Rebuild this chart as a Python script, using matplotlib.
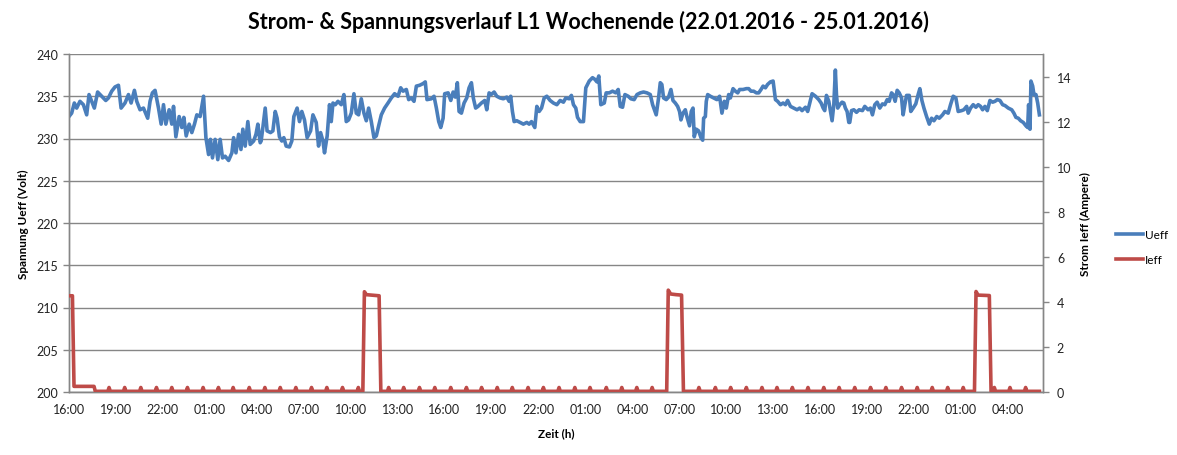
import matplotlib
matplotlib.use("Agg")
import matplotlib.pyplot as plt
import numpy as np

plt.rcParams['font.family'] = ['Lato', 'DejaVu Sans']

# ---- data (hours since 22.01.2016 16:00) ----
u_time = [0.00, 0.17, 0.34, 0.49, 0.70, 0.92, 1.13, 1.28, 1.45, 1.62, 1.83, 2.09, 2.35, 2.52, 2.73, 2.94,
          3.16, 3.33, 3.58, 3.80, 3.97, 4.18, 4.33, 4.54, 4.76, 5.03, 5.18, 5.33, 5.50, 5.72, 5.89, 6.04,
          6.19, 6.40, 6.57, 6.68, 6.83, 7.04, 7.21, 7.34, 7.49, 7.68, 7.85, 8.02, 8.17, 8.38, 8.60, 8.75,
          8.92, 9.04, 9.17, 9.34, 9.51, 9.66, 9.81, 9.98, 10.20, 10.41, 10.52, 10.67, 10.84, 10.99, 11.11,
          11.26, 11.43, 11.58, 11.80, 11.95, 12.07, 12.22,
          12.28, 12.39, 12.54, 12.66, 12.88, 13.03, 13.18, 13.30, 13.45, 13.60, 13.73, 13.88, 14.09, 14.24,
          14.37, 14.58, 14.73, 14.88, 15.05, 15.22, 15.44, 15.59, 15.80, 15.95, 16.08, 16.23, 16.33, 16.50,
          16.65, 16.76, 16.87, 17.02, 17.19, 17.40, 17.57, 17.72, 17.87, 18.04, 18.21, 18.36, 18.51, 18.68,
          18.85, 19.00, 19.15, 19.32, 19.49, 19.64, 19.79, 19.96, 20.17, 20.39, 20.60, 20.81, 21.03, 21.20,
          21.35, 21.56, 21.71, 21.88, 22.05, 22.20, 22.41, 22.63, 22.77, 22.88, 23.16, 23.33, 23.48, 23.63,
          23.76, 23.91, 24.01, 24.23, 24.40, 24.55, 24.69, 24.82,
          24.93, 25.08, 25.25, 25.42, 25.57, 25.72, 25.84, 25.99, 26.14, 26.36, 26.57, 26.70, 26.85, 26.98,
          27.17, 27.34, 27.55, 27.76, 27.98, 28.13, 28.23, 28.34, 28.45, 28.62, 28.83, 29.04, 29.26, 29.41,
          29.56, 29.77, 29.90, 30.05, 30.20, 30.37, 30.54, 30.75, 30.96, 31.18, 31.39, 31.60, 31.75, 31.97,
          32.11, 32.24, 32.39, 32.50, 32.67, 32.88, 33.03, 33.25, 33.46, 33.61, 33.74, 33.86, 33.99, 34.21,
          34.33, 34.53, 34.74, 34.95, 35.10, 35.23, 35.38, 35.53, 35.74, 35.91, 36.12, 36.30, 36.51, 36.72,
          36.94, 37.15, 37.30, 37.45,
          37.53, 37.68, 37.79, 37.89, 38.00, 38.17, 38.32, 38.47, 38.60, 38.75, 38.90, 39.02, 39.11, 39.24,
          39.39, 39.49, 39.66, 39.77, 39.88, 39.96, 40.09, 40.24, 40.39, 40.50, 40.56, 40.67, 40.73, 40.82,
          40.99, 41.20, 41.41, 41.58, 41.73, 41.88, 42.01, 42.16, 42.27, 42.44, 42.59, 42.74, 42.86, 43.08,
          43.29, 43.44, 43.59, 43.76, 43.93, 44.08, 44.23, 44.36, 44.51, 44.65, 44.83, 45.00, 45.15, 45.29,
          45.47, 45.64, 45.79, 45.93, 46.11, 46.32, 46.53, 46.70, 46.85, 47.07, 47.21, 47.34, 47.49, 47.71,
          47.92, 48.07, 48.20, 48.30, 48.41, 48.56, 48.67, 48.77, 48.88, 48.98, 49.05, 49.13, 49.26, 49.41,
          49.52, 49.62, 49.73, 49.84,
          49.90, 50.01, 50.16, 50.33, 50.50, 50.71, 50.86, 51.07, 51.22, 51.35, 51.50, 51.65, 51.82, 51.99,
          52.14, 52.29, 52.42, 52.57, 52.67, 52.80, 52.93, 53.06, 53.21, 53.31, 53.42, 53.53, 53.70, 53.80,
          53.95, 54.12, 54.27, 54.38, 54.51, 54.64, 54.81, 54.98, 55.13, 55.28, 55.46, 55.62, 55.83, 55.98,
          56.19, 56.34, 56.51, 56.68, 56.83, 57.05, 57.19, 57.37, 57.47, 57.62, 57.79, 57.96, 58.11, 58.26,
          58.39, 58.54, 58.69, 58.86, 59.03, 59.18, 59.33, 59.50, 59.67, 59.82, 60.03, 60.25, 60.39, 60.52,
          60.67, 60.82, 60.99, 61.16, 61.27, 61.33, 61.42, 61.48, 61.59, 61.67, 61.80, 61.91, 62.02]

ueff = [232.6, 233.0, 234.2, 233.6, 234.4, 234.0, 232.8, 235.2, 234.4, 233.6, 235.5, 235.0, 234.5, 234.8, 235.6, 236.1,
        236.3, 233.6, 234.2, 235.2, 234.2, 235.7, 234.4, 233.4, 233.6, 232.4, 234.4, 235.4, 235.7, 233.6, 231.7, 234.0,
        231.7, 233.4, 231.7, 233.8, 230.2, 232.6, 231.3, 232.5, 230.3, 231.7, 230.7, 231.7, 232.8, 232.6, 235.0, 230.1,
        228.1, 229.9, 227.7, 229.9, 227.5, 229.9, 227.7, 227.9, 227.4, 228.3, 230.1, 228.3, 230.5, 228.7, 231.1,
        229.1, 232.0, 229.3, 229.7, 230.5, 231.7, 229.5,
        229.7, 231.3, 233.6, 230.9, 230.7, 230.9, 233.2, 232.4, 230.2, 229.7, 230.1, 229.1, 229.0, 229.7,
        232.6, 233.6, 232.0, 233.2, 232.2, 230.1, 230.9, 232.8, 231.9, 229.1, 230.7, 229.7, 228.3, 230.3,
        234.0, 232.0, 234.2, 234.0, 234.4, 234.0, 235.2, 232.0, 232.2, 233.0, 235.3, 233.0, 232.8, 234.7,
        233.0, 232.1, 233.6, 232.0, 230.1, 230.3, 231.5, 232.8, 233.6, 234.2, 234.8, 235.3, 235.0, 236.0,
        235.6, 235.8, 234.6, 234.8, 234.4, 236.2, 236.3, 236.5, 236.7, 234.6, 234.7, 235.0, 233.6, 232.0,
        231.3, 232.4, 235.3, 235.4, 234.5, 235.5, 234.9, 236.6,
        233.2, 233.0, 234.2, 234.8, 236.0, 236.6, 234.8, 233.6, 233.8, 234.2, 234.5, 233.4, 235.4, 235.2,
        235.5, 235.0, 234.8, 234.7, 234.9, 234.4, 235.0, 233.2, 232.0, 232.1, 231.9, 231.7, 231.9, 231.7,
        232.0, 231.3, 233.8, 233.2, 233.6, 234.8, 235.0, 234.5, 234.2, 234.0, 234.5, 234.3, 234.8, 234.7,
        235.1, 234.0, 233.6, 232.5, 232.0, 232.0, 236.0, 236.8, 237.2, 237.0, 236.7, 237.4, 234.0, 234.2,
        235.4, 235.4, 235.6, 235.4, 235.8, 233.8, 233.7, 235.2, 235.0, 234.7, 234.6, 235.2, 235.4, 235.5,
        235.4, 235.2, 234.0, 233.2,
        232.8, 234.8, 236.6, 236.4, 234.8, 234.6, 234.9, 235.8, 234.5, 234.2, 233.8, 233.2, 232.2, 233.0,
        233.4, 232.6, 231.5, 233.2, 233.6, 230.2, 231.1, 230.9, 230.1, 229.8, 232.4, 232.6, 234.4, 235.2,
        235.0, 234.8, 234.6, 235.0, 233.0, 234.4, 233.6, 235.2, 234.8, 235.9, 235.6, 235.4, 235.8, 235.8,
        235.9, 235.9, 235.6, 235.6, 235.4, 235.4, 235.8, 236.2, 236.0, 236.4, 236.7, 236.8, 234.6, 234.4,
        234.0, 234.2, 234.0, 234.5, 233.8, 233.6, 233.4, 233.6, 233.3, 233.7, 233.2, 234.2, 235.3, 235.0,
        234.6, 234.2, 233.6, 233.3, 235.1, 234.4, 233.2, 232.1, 234.0, 238.1, 235.2, 233.6, 234.0, 234.3,
        234.2, 233.6, 233.2, 231.9,
        231.9, 233.3, 233.4, 233.1, 233.4, 233.3, 233.8, 233.4, 233.6, 232.8, 234.0, 234.3, 233.6, 234.1,
        234.0, 234.6, 234.4, 235.4, 235.2, 234.4, 235.7, 235.4, 234.8, 232.8, 234.0, 235.1, 235.1, 233.2,
        233.6, 234.1, 235.2, 235.9, 234.5, 233.6, 232.6, 231.7, 232.4, 232.1, 232.6, 232.4, 232.8, 233.2,
        233.0, 234.0, 235.0, 234.8, 233.2, 233.3, 233.4, 233.8, 233.0, 233.6, 234.0, 233.7, 234.0, 233.8,
        233.4, 233.8, 233.3, 234.5, 234.3, 234.4, 234.6, 234.5, 234.0, 233.9, 233.6, 233.4, 233.0, 232.5,
        232.4, 232.1, 231.9, 231.5, 231.3, 234.0, 231.1, 236.8, 236.2, 235.2, 235.2, 234.2, 232.8]

i_time = [0.00, 0.22, 0.32, 1.60, 1.68,
          2.48, 2.56, 2.64, 3.48, 3.56, 3.64, 4.51, 4.59, 4.67, 5.51, 5.59, 5.67, 6.49, 6.57, 6.65,
          7.49, 7.57, 7.65, 8.49, 8.57, 8.65, 9.47, 9.55, 9.63, 10.41, 10.49, 10.57, 11.44, 11.52, 11.60,
          12.44, 12.52, 12.60, 13.42, 13.50, 13.58, 14.42, 14.50, 14.58, 15.42, 15.50, 15.58,
          16.40, 16.48, 16.56, 17.40, 17.48, 17.56, 18.41, 18.49, 18.57,
          18.78, 18.88, 19.00, 19.30, 19.55, 19.82, 19.93,
          20.35, 20.43, 20.51, 21.31, 21.39, 21.47, 22.32, 22.40, 22.48, 23.30, 23.38, 23.46,
          24.32, 24.40, 24.48, 25.32, 25.40, 25.48, 26.29, 26.37, 26.45, 27.29, 27.37, 27.45,
          28.25, 28.33, 28.41, 29.26, 29.34, 29.42, 30.24, 30.32, 30.40, 31.24, 31.32, 31.40,
          32.25, 32.33, 32.41, 33.22, 33.30, 33.38, 34.26, 34.34, 34.42, 35.25, 35.33, 35.41,
          36.21, 36.29, 36.37, 37.19, 37.27, 37.35,
          38.20, 38.30, 38.45, 38.80, 39.15, 39.27,
          40.18, 40.26, 40.34, 41.23, 41.31, 41.39, 42.21, 42.29, 42.37, 43.21, 43.29, 43.37,
          44.21, 44.29, 44.37, 45.17, 45.25, 45.33, 46.15, 46.23, 46.31, 47.15, 47.23, 47.31,
          48.16, 48.24, 48.32, 49.14, 49.22, 49.30, 50.14, 50.22, 50.30, 51.15, 51.23, 51.31,
          52.13, 52.21, 52.29, 53.13, 53.21, 53.29, 54.13, 54.21, 54.29, 55.09, 55.17, 55.25,
          56.08, 56.16, 56.24, 57.07, 57.15, 57.23,
          57.87, 57.97, 58.10, 58.45, 58.82, 58.93,
          59.06, 59.14, 59.22, 60.06, 60.14, 60.22, 61.06, 61.14, 61.22, 62.02]

ieff = [4.27, 4.27, 0.25, 0.25, 0.03,
        0.03, 0.20, 0.03, 0.03, 0.20, 0.03, 0.03, 0.20, 0.03, 0.03, 0.20, 0.03, 0.03, 0.20, 0.03,
        0.03, 0.20, 0.03, 0.03, 0.20, 0.03, 0.03, 0.20, 0.03, 0.03, 0.20, 0.03, 0.03, 0.20, 0.03,
        0.03, 0.20, 0.03, 0.03, 0.20, 0.03, 0.03, 0.20, 0.03, 0.03, 0.20, 0.03,
        0.03, 0.20, 0.03, 0.03, 0.20, 0.03, 0.03, 0.20, 0.03,
        0.03, 4.45, 4.32, 4.30, 4.28, 4.27, 0.03,
        0.03, 0.20, 0.03, 0.03, 0.20, 0.03, 0.03, 0.20, 0.03, 0.03, 0.20, 0.03,
        0.03, 0.20, 0.03, 0.03, 0.20, 0.03, 0.03, 0.20, 0.03, 0.03, 0.20, 0.03,
        0.03, 0.20, 0.03, 0.03, 0.20, 0.03, 0.03, 0.20, 0.03, 0.03, 0.20, 0.03,
        0.03, 0.20, 0.03, 0.03, 0.20, 0.03, 0.03, 0.20, 0.03, 0.03, 0.20, 0.03,
        0.03, 0.20, 0.03, 0.03, 0.20, 0.03,
        0.03, 4.52, 4.35, 4.32, 4.30, 0.03,
        0.03, 0.20, 0.03, 0.03, 0.20, 0.03, 0.03, 0.20, 0.03, 0.03, 0.20, 0.03,
        0.03, 0.20, 0.03, 0.03, 0.20, 0.03, 0.03, 0.20, 0.03, 0.03, 0.20, 0.03,
        0.03, 0.20, 0.03, 0.03, 0.20, 0.03, 0.03, 0.20, 0.03, 0.03, 0.20, 0.03,
        0.03, 0.20, 0.03, 0.03, 0.20, 0.03, 0.03, 0.20, 0.03, 0.03, 0.20, 0.03,
        0.03, 0.20, 0.03, 0.03, 0.20, 0.03,
        0.03, 4.46, 4.30, 4.29, 4.28, 0.03,
        0.03, 0.20, 0.03, 0.03, 0.20, 0.03, 0.03, 0.20, 0.03, 0.03]

x_tick_labels = ["16:00", "19:00", "22:00", "01:00", "04:00", "07:00", "10:00", "13:00",
                 "16:00", "19:00", "22:00", "01:00", "04:00", "07:00", "10:00", "13:00",
                 "16:00", "19:00", "22:00", "01:00", "04:00"]

title = "Strom- & Spannungsverlauf L1 Wochenende (22.01.2016 - 25.01.2016)"

# ---- figure ----
W, H = 1177, 456
fig = plt.figure(figsize=(W / 100, H / 100), dpi=100)
ax = fig.add_axes([69 / W, 1 - 393 / H, (1043 - 69) / W, (393 - 55) / H])
ax2 = ax.twinx()

grid_c = "#868686"
blue = "#4A7EBB"
red = "#BE4B48"

l1, = ax.plot(u_time, ueff, color=blue, lw=2.6, solid_joinstyle='round', label="Ueff", zorder=3)
l2, = ax2.plot(i_time, ieff, color=red, lw=2.6, solid_joinstyle='round', label="Ieff", zorder=3)

ax.set_xlim(0, 62.25)
ax.set_ylim(200, 240)
ax.set_yticks(np.arange(200, 241, 5))
ax2.set_ylim(0, 15)
ax2.set_yticks(np.arange(0, 15, 2))

ax.set_xticks(np.arange(0, 61, 3))
ax.set_xticklabels(x_tick_labels)

ax.grid(axis='y', color=grid_c, lw=1.0)
ax.set_axisbelow(True)
for a in (ax, ax2):
    a.spines['top'].set_visible(False)
    for s in ('left', 'right', 'bottom'):
        a.spines[s].set_color(grid_c)
        a.spines[s].set_linewidth(1.0)
ax.tick_params(axis='both', colors=grid_c, labelcolor='#222222', labelsize=9, length=4, width=1)
ax2.tick_params(axis='y', colors=grid_c, labelcolor='#222222', labelsize=9, length=4, width=1)
ax.tick_params(axis='x', length=0, pad=8)
ax.tick_params(axis='y', pad=4)
ax2.tick_params(axis='y', pad=6)

ax.set_ylabel("Spannung Ueff (Volt)", fontsize=8.5, fontweight='bold', labelpad=5)
ax2.set_ylabel("Strom Ieff (Ampere)", fontsize=8.5, fontweight='bold', labelpad=6)
ax.set_xlabel("Zeit (h)", fontsize=8.5, fontweight='bold', labelpad=9)

fig.text(588 / W, 1 - 22 / H, title, ha='center', va='center', fontsize=15.5, fontweight='bold')

fig.legend(handles=[l1, l2], loc='center left', bbox_to_anchor=(1105 / W, 1 - 248 / H),
           frameon=False, fontsize=8.5, handlelength=2.3, handletextpad=0.15, labelspacing=1.2)

fig.savefig("out.png", dpi=100)
